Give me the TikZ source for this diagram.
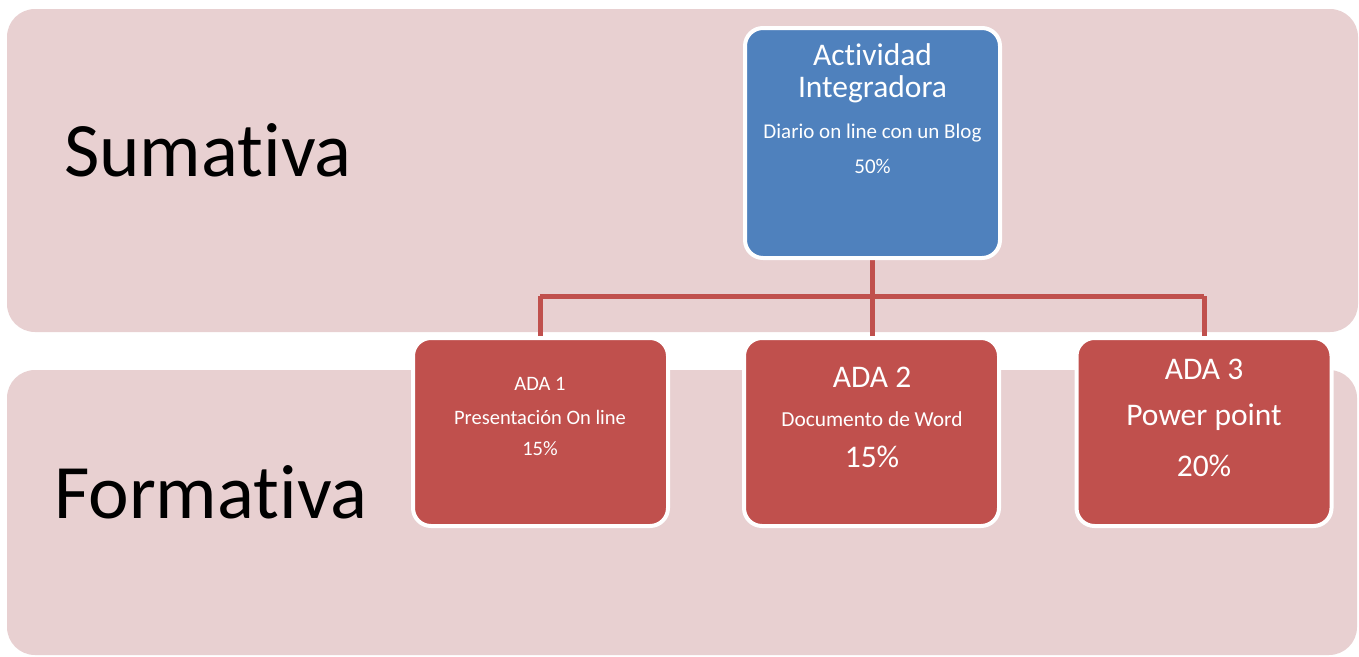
\documentclass[tikz,border=0pt]{standalone}
\usepackage{fontspec}
\setmainfont{Carlito}[Ligatures={NoCommon}]
\usetikzlibrary{backgrounds}
\definecolor{bandpink}{HTML}{E8D0D1}
\definecolor{boxblue}{HTML}{4F81BD}
\definecolor{boxred}{HTML}{C0504D}
\tikzset{
  band/.style={fill=bandpink, rounded corners=28pt},
  card/.style={draw=white, line width=4pt, rounded corners=18pt, minimum width=255pt, outer sep=0pt, inner sep=0pt},
  bluecard/.style={card, fill=boxblue, minimum height=230pt},
  redcard/.style={card, fill=boxred, minimum height=188pt},
  link/.style={draw=boxred, line width=5pt},
  wtxt/.style={text=white, inner sep=0pt, anchor=center},
  big/.style={inner sep=0pt, anchor=west, text=black}
}
\begin{document}
\begin{tikzpicture}[x=1pt,y=-1pt]
\useasboundingbox (0,0) rectangle (1359,656);
\begin{scope}[on background layer]
\fill[white] (0,0) rectangle (1359,656);
\fill[band] (7,9) rectangle (1358,332);
\fill[band] (7,370) rectangle (1357,655);
\end{scope}
\node[big, font=\fontsize{77}{77}\selectfont] (sum) at (64,150) {Sumativa};
\node[big, font=\fontsize{77}{77}\selectfont] (form) at (54,492) {Formativa};
\coordinate (hl) at (540,296);
\coordinate (hr) at (1204,296);
\coordinate (hm) at (872.5,296);
\node[bluecard] (act) at (872.5,143) {};
\node[redcard] (ada1) at (540.5,432) {};
\node[redcard] (ada2) at (871.5,432) {};
\node[redcard] (ada3) at (1204,432) {};
\begin{scope}[on background layer]
\path[link] (act.south) -- (hm);
\path[link] (hl) -- (hr);
\path[link] (hl) -- (hl |- ada1.north);
\path[link] (hm) -- (hm |- ada2.north);
\path[link] (hr) -- (hr |- ada3.north);
\end{scope}
% texts
\node[wtxt, font=\fontsize{31.5}{31.5}\selectfont] (t1) at (872.5,55) {Actividad};
\node[wtxt, font=\fontsize{31.5}{31.5}\selectfont] (t2) at (872.5,89) {Integradora};
\node[wtxt, font=\fontsize{21}{21}\selectfont] (t3) at (872.5,133) {Diario on line con un Blog};
\node[wtxt, font=\fontsize{21}{21}\selectfont] (t4) at (872.5,166) {50\%};
\node[wtxt, font=\fontsize{20.5}{20.5}\selectfont] (a11) at (540,384) {ADA 1};
\node[wtxt, font=\fontsize{20.5}{20.5}\selectfont] (a12) at (540,417) {Presentación On line};
\node[wtxt, font=\fontsize{20.5}{20.5}\selectfont] (a13) at (540,449) {15\%};
\node[wtxt, font=\fontsize{31.5}{31.5}\selectfont] (a21) at (872,377) {ADA 2};
\node[wtxt, font=\fontsize{21.4}{21.4}\selectfont] (a22) at (872,419) {Documento de Word};
\node[wtxt, font=\fontsize{31.5}{31.5}\selectfont] (a23) at (872,457) {15\%};
\node[wtxt, font=\fontsize{31.5}{31.5}\selectfont] (a31) at (1204,369) {ADA 3};
\node[wtxt, font=\fontsize{31.5}{31.5}\selectfont] (a32) at (1204,417) {Power point};
\node[wtxt, font=\fontsize{31.5}{31.5}\selectfont] (a33) at (1204,466) {20\%};
\end{tikzpicture}
\end{document}
